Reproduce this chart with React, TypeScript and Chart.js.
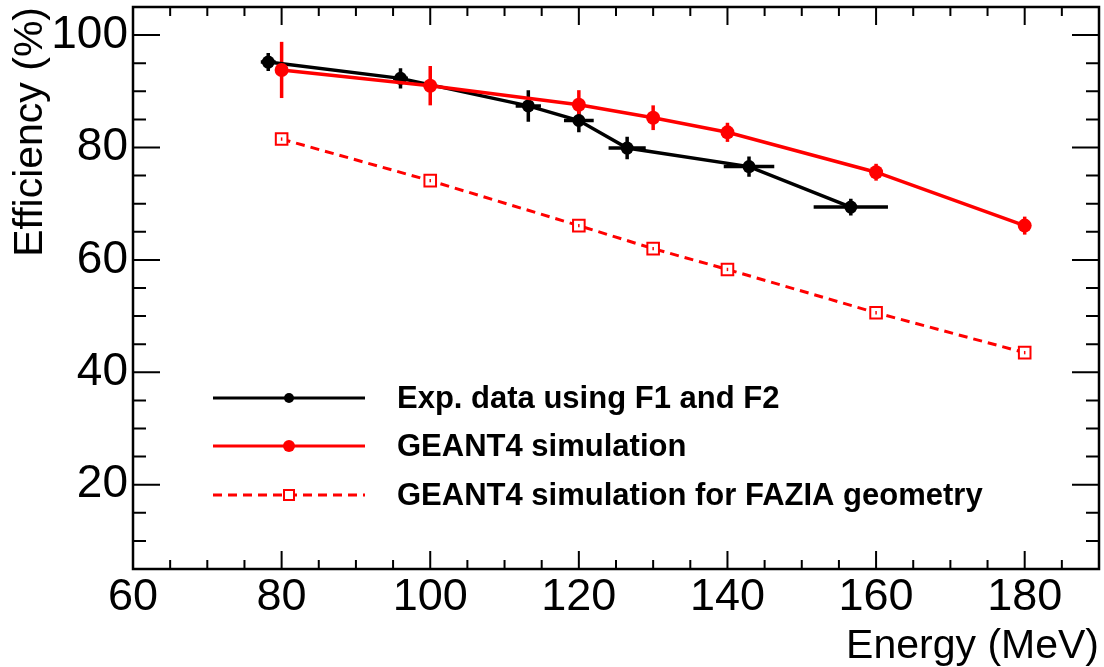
import React, { useEffect, useRef } from "react";
import { Chart, registerables } from "chart.js";

Chart.register(...registerables);

// ---- data ----
const expEnergy = [78.2, 96.0, 113.2, 120.0, 126.5, 142.9, 156.6];
const expEff = [95.2, 92.3, 87.4, 84.8, 79.9, 76.6, 69.4];
const expEnergyErr = [1.0, 1.0, 1.7, 2.0, 2.5, 3.4, 5.0];
const expEffErr = [1.6, 1.8, 2.8, 2.1, 2.0, 1.8, 1.5];

const simEnergy = [80, 100, 120, 130, 140, 160, 180];
const simEff = [93.8, 91.0, 87.6, 85.3, 82.7, 75.6, 66.1];
const simEffErr = [5.0, 3.5, 2.6, 2.2, 1.7, 1.5, 1.6];

const faziaEnergy = [80, 100, 120, 130, 140, 160, 180];
const faziaEff = [81.5, 74.1, 66.1, 62.0, 58.3, 50.6, 43.5];
const faziaEffErr = [0.3, 0.3, 0.3, 0.3, 0.3, 0.3, 0.3];

const xTicks = [60, 80, 100, 120, 140, 160, 180];
const yTicks = [20, 40, 60, 80, 100];
const xRange = [60, 190];
const yRange = [5, 105];
const minorStep = 5;

const seriesLabels = [
  "Exp. data using F1 and F2",
  "GEANT4 simulation",
  "GEANT4 simulation for FAZIA geometry",
];
const xTitle = "Energy (MeV)";
const yTitle = "Efficiency (%)";

const RED = "#ff0000";
const BLACK = "#000000";
const FONT = "'Liberation Sans', Arial, Helvetica, sans-serif";

function errBars(chart: any, xs: number[], ys: number[], xe: number[] | null, ye: number[] | null, color: string) {
  const { ctx, scales } = chart;
  const sx = scales.x, sy = scales.y;
  ctx.save();
  ctx.strokeStyle = color;
  ctx.lineWidth = 3.5;
  ctx.lineCap = "butt";
  for (let i = 0; i < xs.length; i++) {
    const px = sx.getPixelForValue(xs[i]);
    const py = sy.getPixelForValue(ys[i]);
    ctx.beginPath();
    if (ye) {
      ctx.moveTo(px, sy.getPixelForValue(ys[i] - ye[i]));
      ctx.lineTo(px, sy.getPixelForValue(ys[i] + ye[i]));
    }
    if (xe) {
      ctx.moveTo(sx.getPixelForValue(xs[i] - xe[i]), py);
      ctx.lineTo(sx.getPixelForValue(xs[i] + xe[i]), py);
    }
    ctx.stroke();
  }
  ctx.restore();
}

const rootPlugin = {
  id: "rootStyle",
  beforeDatasetsDraw(chart: any) {
    errBars(chart, expEnergy, expEff, expEnergyErr, expEffErr, BLACK);
    errBars(chart, simEnergy, simEff, null, simEffErr, RED);
  },
  afterDatasetsDraw(chart: any) {
    const { ctx, chartArea: a, scales } = chart;
    const sx = scales.x, sy = scales.y;
    // small inner error marks of FAZIA squares
    ctx.save();
    ctx.strokeStyle = RED;
    ctx.lineWidth = 1.5;
    for (let i = 0; i < faziaEnergy.length; i++) {
      const px = sx.getPixelForValue(faziaEnergy[i]);
      ctx.beginPath();
      ctx.moveTo(px, sy.getPixelForValue(faziaEff[i] - faziaEffErr[i]));
      ctx.lineTo(px, sy.getPixelForValue(faziaEff[i] + faziaEffErr[i]));
      ctx.stroke();
    }
    ctx.restore();

    // frame
    ctx.save();
    ctx.strokeStyle = BLACK;
    ctx.lineWidth = 2.5;
    ctx.strokeRect(a.left, a.top, a.right - a.left, a.bottom - a.top);

    // inward ticks
    ctx.lineWidth = 2;
    ctx.beginPath();
    for (let v = xRange[0]; v <= xRange[1]; v += minorStep) {
      const px = sx.getPixelForValue(v);
      const major = xTicks.includes(v);
      const len = major ? 18 : 9;
      ctx.moveTo(px, a.bottom);
      ctx.lineTo(px, a.bottom - len);
      ctx.moveTo(px, a.top);
      ctx.lineTo(px, a.top + len);
    }
    for (let v = yRange[0]; v <= yRange[1]; v += minorStep) {
      const py = sy.getPixelForValue(v);
      const major = yTicks.includes(v);
      const len = major ? 27 : 13;
      ctx.moveTo(a.left, py);
      ctx.lineTo(a.left + len, py);
      ctx.moveTo(a.right, py);
      ctx.lineTo(a.right - len, py);
    }
    ctx.stroke();
    ctx.restore();

    // legend
    const rows = [398, 446, 495];
    const x0 = 213, x1 = 365, xm = 289, xt = 397;
    ctx.save();
    ctx.lineWidth = 3;
    ctx.textBaseline = "middle";
    ctx.textAlign = "left";
    ctx.font = `bold 31px ${FONT}`;
    rows.forEach((ry, i) => {
      const color = i === 0 ? BLACK : RED;
      ctx.strokeStyle = color;
      ctx.fillStyle = color;
      ctx.setLineDash(i === 2 ? [9, 6] : []);
      ctx.beginPath();
      ctx.moveTo(x0, ry);
      ctx.lineTo(x1, ry);
      ctx.stroke();
      ctx.setLineDash([]);
      if (i < 2) {
        ctx.beginPath();
        ctx.arc(xm, ry, i === 0 ? 5 : 6, 0, Math.PI * 2);
        ctx.fill();
      } else {
        ctx.fillStyle = "#fff";
        ctx.fillRect(xm - 5, ry - 5, 10, 10);
        ctx.lineWidth = 2;
        ctx.strokeRect(xm - 5, ry - 5, 10, 10);
        ctx.lineWidth = 3;
      }
      ctx.fillStyle = BLACK;
      ctx.fillText(seriesLabels[i], xt, ry + 1);
    });
    ctx.restore();
  },
};

export default function App() {
  const ref = useRef<HTMLCanvasElement | null>(null);
  useEffect(() => {
    document.body.style.margin = "0";
    const canvas = ref.current;
    if (!canvas) return;
    const chart = new Chart(canvas, {
      type: "line",
      data: {
        datasets: [
          {
            label: seriesLabels[1],
            data: simEnergy.map((x, i) => ({ x, y: simEff[i] })),
            borderColor: RED,
            backgroundColor: RED,
            borderWidth: 3.5,
            pointRadius: 7,
            pointBorderWidth: 0,
            pointBackgroundColor: RED,
            tension: 0,
          },
          {
            label: seriesLabels[0],
            data: expEnergy.map((x, i) => ({ x, y: expEff[i] })),
            borderColor: BLACK,
            backgroundColor: BLACK,
            borderWidth: 3.5,
            pointRadius: 6.5,
            pointBorderWidth: 0,
            pointBackgroundColor: BLACK,
            tension: 0,
          },
          {
            label: seriesLabels[2],
            data: faziaEnergy.map((x, i) => ({ x, y: faziaEff[i] })),
            borderColor: RED,
            backgroundColor: "#ffffff",
            borderWidth: 3,
            borderDash: [9, 6],
            pointStyle: "rect",
            pointRadius: 8.2,
            pointBorderWidth: 2,
            pointBorderColor: RED,
            pointBackgroundColor: "#ffffff",
            tension: 0,
          },
        ],
      },
      options: {
        animation: false,
        responsive: true,
        maintainAspectRatio: false,
        events: [],
        layout: { autoPadding: false, padding: { left: 0, top: 7, right: 5, bottom: 0 } },
        plugins: { legend: { display: false }, tooltip: { enabled: false } },
        scales: {
          x: {
            type: "linear",
            min: xRange[0],
            max: xRange[1],
            afterBuildTicks: (s: any) => {
              s.ticks = xTicks.map((v) => ({ value: v }));
            },
            afterFit: (s: any) => {
              s.height = 98;
              s.paddingLeft = 0;
              s.paddingRight = 0;
            },
            grid: { display: false, drawTicks: false },
            border: { display: false },
            ticks: {
              color: BLACK,
              padding: 2,
              maxRotation: 0,
              autoSkip: false,
              font: { family: FONT, size: 45 },
            },
            title: {
              display: true,
              text: xTitle,
              align: "end",
              color: BLACK,
              font: { family: FONT, size: 41 },
              padding: { top: 0, bottom: -4 },
            },
          },
          y: {
            type: "linear",
            min: yRange[0],
            max: yRange[1],
            afterBuildTicks: (s: any) => {
              s.ticks = yTicks.map((v) => ({ value: v }));
            },
            afterFit: (s: any) => {
              s.width = 133;
              s.paddingTop = 0;
              s.paddingBottom = 0;
            },
            grid: { display: false, drawTicks: false },
            border: { display: false },
            ticks: {
              color: BLACK,
              padding: 5,
              autoSkip: false,
              font: { family: FONT, size: 46 },
            },
            title: {
              display: true,
              text: yTitle,
              align: "end",
              color: BLACK,
              font: { family: FONT, size: 41 },
              padding: { top: 6, bottom: 0 },
            },
          },
        },
      },
      plugins: [rootPlugin],
    } as any);
    return () => chart.destroy();
  }, []);
  return (
    <div style={{ position: "fixed", left: 0, top: 0, width: 1104, height: 667, background: "#fff" }}>
      <canvas ref={ref} />
    </div>
  );
}
